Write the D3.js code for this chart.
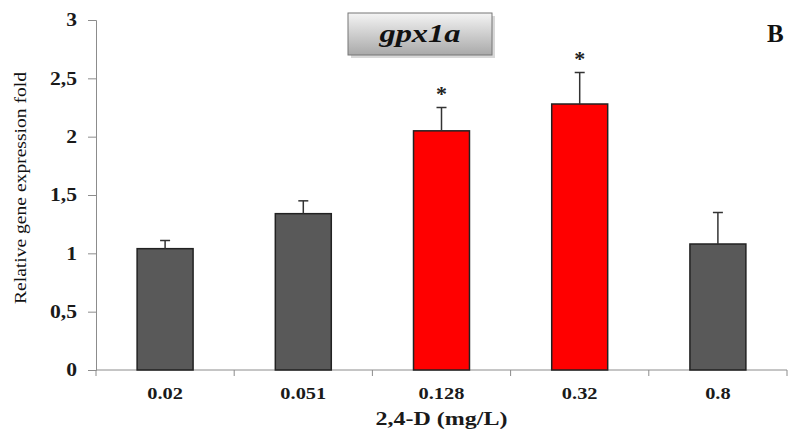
<!doctype html>
<html>
<head>
<meta charset="UTF-8">
<script src="https://cdn.jsdelivr.net/npm/d3@7"></script>
<style>
  body { margin: 0; background: #fff; }
</style>
</head>
<body>
<svg id="chart" width="789" height="432"></svg>
<script>
const doses = ["0.02", "0.051", "0.128", "0.32", "0.8"];
const means = [1.04, 1.34, 2.05, 2.28, 1.08];
const errors = [0.07, 0.11, 0.20, 0.27, 0.27];
const significant = [false, false, true, true, false];
const yTicks = [0, 0.5, 1, 1.5, 2, 2.5, 3];

const serif = "'Liberation Serif', 'Times New Roman', 'DejaVu Serif', serif";
const svg = d3.select("#chart");
const mLeft = 96, mRight = 787, mTop = 20, mBottom = 370;

const x = d3.scaleBand().domain(doses).range([mLeft, mRight]).paddingInner(0.595).paddingOuter(0.2975);
const xTicks = d3.scaleBand().domain(doses).range([mLeft, mRight]);
const y = d3.scaleLinear().domain([0, 3]).range([mBottom, mTop]);

// y axis
const yAxis = svg.append("g").attr("transform", `translate(${mLeft},0)`)
  .call(d3.axisLeft(y).tickValues(yTicks).tickSize(8).tickPadding(10)
    .tickFormat(d => String(d).replace(".", ",")));
yAxis.attr("font-family", null);
yAxis.selectAll("path, line").attr("stroke", "#8c8c8c");
yAxis.selectAll("text").style("font-family", serif)
  .attr("x", 0).attr("transform", "translate(-19,0) scale(1.2,1)")
  .attr("font-size", 18).attr("font-weight", "bold").attr("fill", "#1a1a1a");

// x axis (ticks at band boundaries)
const xAxis = svg.append("g").attr("transform", `translate(0,${mBottom})`);
xAxis.append("line").attr("x1", mLeft).attr("x2", mRight).attr("stroke", "#8c8c8c");
xAxis.selectAll("line.t").data(doses).enter().append("line")
  .attr("x1", d => xTicks(d)).attr("x2", d => xTicks(d))
  .attr("y1", 0).attr("y2", 6).attr("stroke", "#8c8c8c");
xAxis.append("line").attr("x1", mRight).attr("x2", mRight).attr("y1", 0).attr("y2", 6).attr("stroke", "#8c8c8c");
xAxis.selectAll("text").data(doses).enter().append("text")
  .attr("transform", d => `translate(${xTicks(d) + xTicks.bandwidth() / 2},29) scale(1.2,1)`)
  .style("font-family", serif)
  .attr("text-anchor", "middle").attr("font-size", 17).attr("font-weight", "bold").attr("fill", "#1a1a1a")
  .text(d => d);

// bars
svg.selectAll("rect.bar").data(doses).enter().append("rect")
  .attr("class", "bar")
  .attr("x", d => x(d)).attr("width", x.bandwidth())
  .attr("y", (d, i) => y(means[i])).attr("height", (d, i) => y(0) - y(means[i]))
  .attr("fill", (d, i) => significant[i] ? "#ff0000" : "#595959")
  .attr("stroke", "#222").attr("stroke-width", 1.5);

// error bars (upper only)
const eb = svg.append("g").attr("stroke", "#333").attr("stroke-width", 1.5);
doses.forEach((d, i) => {
  const cx = x(d) + x.bandwidth() / 2;
  eb.append("line").attr("x1", cx).attr("x2", cx).attr("y1", y(means[i])).attr("y2", y(means[i] + errors[i]));
  eb.append("line").attr("x1", cx - 5).attr("x2", cx + 5).attr("y1", y(means[i] + errors[i])).attr("y2", y(means[i] + errors[i]));
});

// significance stars
svg.selectAll("text.star").data(doses.filter((d, i) => significant[i])).enter().append("text")
  .attr("x", d => x(d) + x.bandwidth() / 2)
  .attr("y", d => y(means[doses.indexOf(d)] + errors[doses.indexOf(d)]) - 7)
  .style("font-family", serif)
  .attr("text-anchor", "middle").attr("font-size", 22).attr("font-weight", "bold").attr("fill", "#222")
  .text("*");

// axis titles
svg.append("text").attr("transform", "translate(26,188) rotate(-90)")
  .style("font-family", serif)
  .attr("text-anchor", "middle").attr("font-size", 16).attr("fill", "#111")
  .attr("textLength", 232).attr("lengthAdjust", "spacingAndGlyphs")
  .text("Relative gene expression fold");
svg.append("text").attr("x", (mLeft + mRight) / 2).attr("y", 425)
  .style("font-family", serif)
  .attr("text-anchor", "middle").attr("font-size", 19).attr("font-weight", "bold").attr("fill", "#1a1a1a")
  .attr("textLength", 132).attr("lengthAdjust", "spacingAndGlyphs")
  .text("2,4-D (mg/L)");

// title box
const defs = svg.append("defs");
const grad = defs.append("linearGradient").attr("id", "boxg").attr("x1", 0).attr("y1", 0).attr("x2", 0).attr("y2", 1);
grad.append("stop").attr("offset", "0%").attr("stop-color", "#f4f4f4");
grad.append("stop").attr("offset", "100%").attr("stop-color", "#a9a9a9");
svg.append("rect").attr("x", 351).attr("y", 16).attr("width", 144).attr("height", 42).attr("fill", "#d8d8d8");
svg.append("rect").attr("x", 348).attr("y", 13).attr("width", 144).attr("height", 42)
  .attr("fill", "url(#boxg)").attr("stroke", "#777").attr("stroke-width", 1);
svg.append("text").attr("transform", "translate(420,42) scale(1.25,1)").attr("text-anchor", "middle")
  .style("font-family", serif)
  .attr("font-size", 26).attr("font-weight", "bold").attr("font-style", "italic").attr("fill", "#111")
  .text("gpx1a");

svg.append("text").attr("x", 767).attr("y", 42)
  .style("font-family", serif)
  .attr("font-size", 25).attr("font-weight", "bold").attr("fill", "#111").text("B");
</script>
</body>
</html>
